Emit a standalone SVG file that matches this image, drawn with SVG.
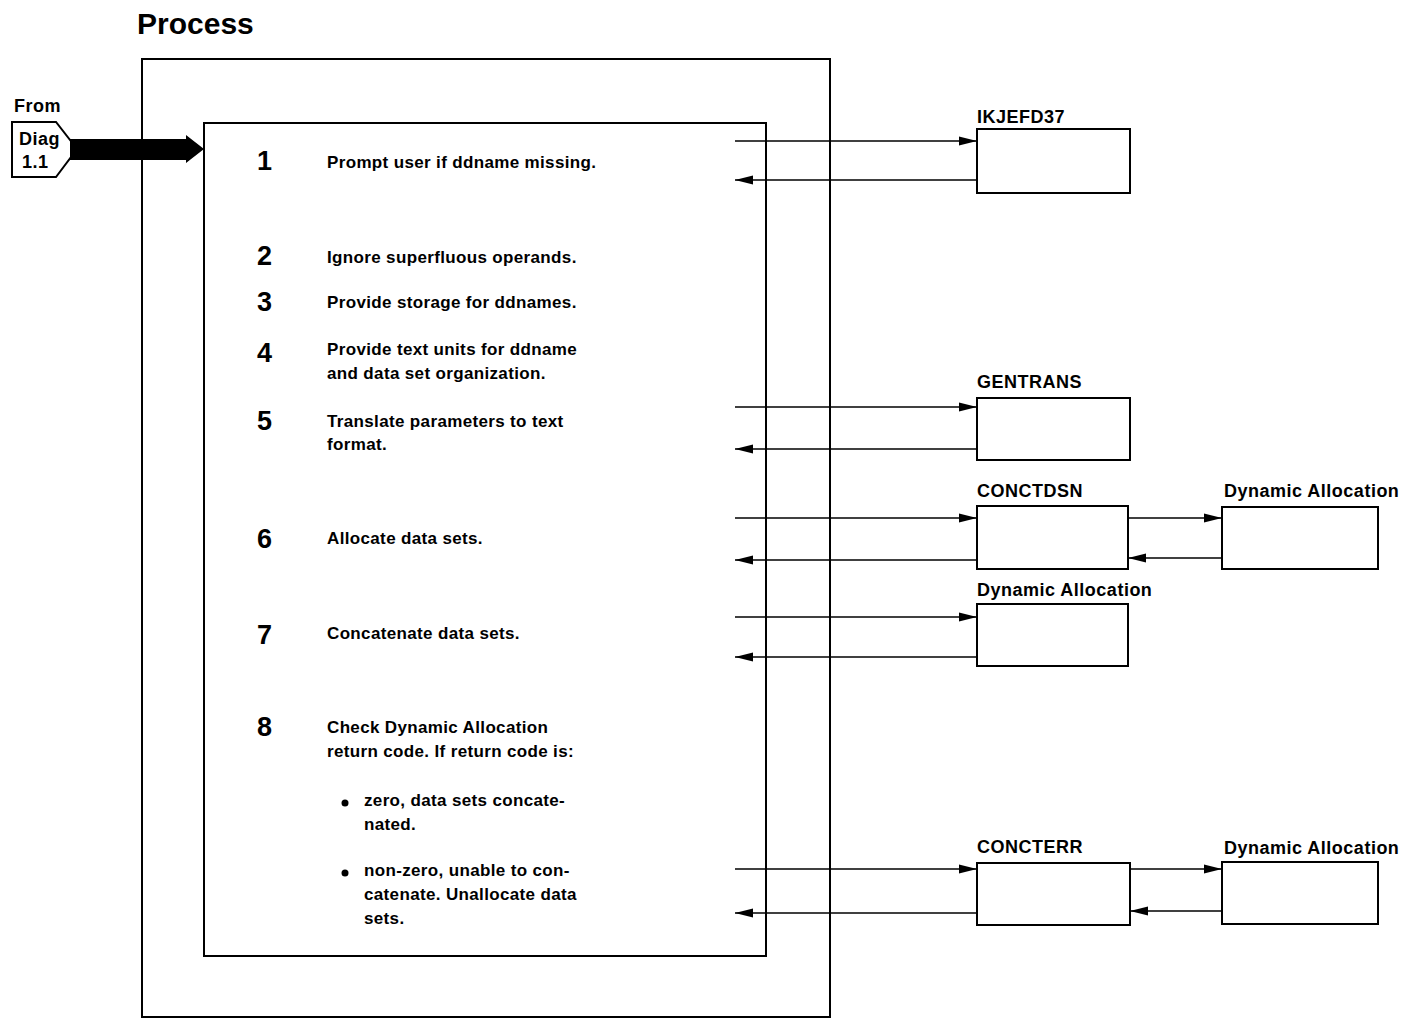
<svg xmlns="http://www.w3.org/2000/svg" width="1410" height="1018" viewBox="0 0 1410 1018">
<style>
.box{fill:#fff;stroke:#000;stroke-width:2}
.ln{stroke:#000;stroke-width:1.5;fill:none}
.t{font-family:"Liberation Sans",Arial,sans-serif;font-size:17px;font-weight:bold;fill:#000;letter-spacing:0.35px}
.n{font-family:"Liberation Sans",Arial,sans-serif;font-size:27px;font-weight:bold;fill:#000}
.lbl{font-family:"Liberation Sans",Arial,sans-serif;font-size:18px;font-weight:bold;fill:#000;letter-spacing:0.5px}
</style>
<defs>
<marker id="ah" markerWidth="18" markerHeight="10" refX="18" refY="5" orient="auto" markerUnits="userSpaceOnUse">
<path d="M0,0.5 L18,5 L0,9.5 Z" fill="#000"/>
</marker>
</defs>
<rect width="1410" height="1018" fill="#fff"/>
<text x="137" y="34" font-family="Liberation Sans,Arial,sans-serif" font-size="30" font-weight="bold">Process</text>
<g id="outer"><rect class="box" x="142" y="59" width="688" height="958"/></g>
<g id="process">
<rect class="box" x="204" y="123" width="562" height="833"/>
<text class="n" x="257" y="170">1</text>
<text class="t" x="327" y="168">Prompt user if ddname missing.</text>
<text class="n" x="257" y="265">2</text>
<text class="t" x="327" y="263">Ignore superfluous operands.</text>
<text class="n" x="257" y="311">3</text>
<text class="t" x="327" y="308">Provide storage for ddnames.</text>
<text class="n" x="257" y="362">4</text>
<text class="t" x="327" y="355">Provide text units for ddname</text>
<text class="t" x="327" y="379">and data set organization.</text>
<text class="n" x="257" y="430">5</text>
<text class="t" x="327" y="427">Translate parameters to text</text>
<text class="t" x="327" y="450">format.</text>
<text class="n" x="257" y="548">6</text>
<text class="t" x="327" y="544">Allocate data sets.</text>
<text class="n" x="257" y="644">7</text>
<text class="t" x="327" y="639">Concatenate data sets.</text>
<text class="n" x="257" y="736">8</text>
<text class="t" x="327" y="733">Check Dynamic Allocation</text>
<text class="t" x="327" y="757">return code.  If return code is:</text>
<circle cx="345" cy="803" r="3.5" fill="#000"/>
<text class="t" x="364" y="806">zero, data sets concate-</text>
<text class="t" x="364" y="830">nated.</text>
<circle cx="345" cy="873" r="3.5" fill="#000"/>
<text class="t" x="364" y="876">non-zero, unable to con-</text>
<text class="t" x="364" y="900">catenate.  Unallocate data</text>
<text class="t" x="364" y="924">sets.</text>
</g>
<g id="from">
<text class="lbl" x="14" y="112" font-size="16" letter-spacing="0">From</text>
<path d="M12,122 H56 L77,149 L56,177 H12 Z" fill="#fff" stroke="#000" stroke-width="2"/>
<text class="lbl" x="19" y="145" font-size="16" letter-spacing="0">Diag</text>
<text class="lbl" x="22" y="168" font-size="16" letter-spacing="0">1.1</text>
</g>
<g id="ikjefd37">
<text class="lbl" x="977" y="123">IKJEFD37</text>
<rect class="box" x="977" y="129" width="153" height="64"/>
</g>
<g id="gentrans">
<text class="lbl" x="977" y="388">GENTRANS</text>
<rect class="box" x="977" y="398" width="153" height="62"/>
</g>
<g id="conctdsn">
<text class="lbl" x="977" y="497">CONCTDSN</text>
<rect class="box" x="977" y="506" width="151" height="63"/>
</g>
<g id="dynalloc1">
<text class="lbl" x="1224" y="497">Dynamic Allocation</text>
<rect class="box" x="1222" y="507" width="156" height="62"/>
</g>
<g id="dynalloc2">
<text class="lbl" x="977" y="596">Dynamic Allocation</text>
<rect class="box" x="977" y="604" width="151" height="62"/>
</g>
<g id="concterr">
<text class="lbl" x="977" y="853">CONCTERR</text>
<rect class="box" x="977" y="863" width="153" height="62"/>
</g>
<g id="dynalloc3">
<text class="lbl" x="1224" y="854">Dynamic Allocation</text>
<rect class="box" x="1222" y="862" width="156" height="62"/>
</g>
<g id="connectors">
<path d="M70,139 H186 V135 L204,149 L186,163 V160 H70 Z" fill="#000"/>
<line class="ln" x1="735" y1="141" x2="977" y2="141" marker-end="url(#ah)"/>
<line class="ln" x1="977" y1="180" x2="735" y2="180" marker-end="url(#ah)"/>
<line class="ln" x1="735" y1="407" x2="977" y2="407" marker-end="url(#ah)"/>
<line class="ln" x1="977" y1="449" x2="735" y2="449" marker-end="url(#ah)"/>
<line class="ln" x1="735" y1="518" x2="977" y2="518" marker-end="url(#ah)"/>
<line class="ln" x1="977" y1="560" x2="735" y2="560" marker-end="url(#ah)"/>
<line class="ln" x1="1128" y1="518" x2="1222" y2="518" marker-end="url(#ah)"/>
<line class="ln" x1="1222" y1="558" x2="1128" y2="558" marker-end="url(#ah)"/>
<line class="ln" x1="735" y1="617" x2="977" y2="617" marker-end="url(#ah)"/>
<line class="ln" x1="977" y1="657" x2="735" y2="657" marker-end="url(#ah)"/>
<line class="ln" x1="735" y1="869" x2="977" y2="869" marker-end="url(#ah)"/>
<line class="ln" x1="977" y1="913" x2="735" y2="913" marker-end="url(#ah)"/>
<line class="ln" x1="1130" y1="869" x2="1222" y2="869" marker-end="url(#ah)"/>
<line class="ln" x1="1222" y1="911" x2="1130" y2="911" marker-end="url(#ah)"/>
</g>
</svg>
